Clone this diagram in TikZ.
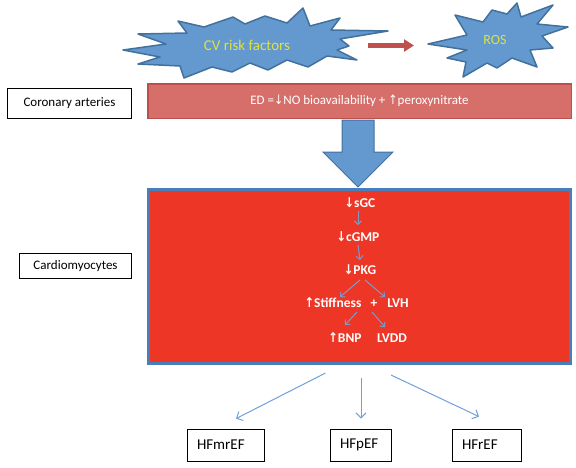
\documentclass[tikz,border=0pt]{standalone}
\usepackage{fontspec}
\setmainfont{Carlito}
\newfontfamily\arrfont{DejaVu Sans}
\usetikzlibrary{arrows.meta,calc}
\definecolor{starblue}{RGB}{100,153,208}
\definecolor{starline}{RGB}{65,113,156}
\definecolor{edfill}{RGB}{214,110,106}
\definecolor{edline}{RGB}{185,80,77}
\definecolor{boxred}{RGB}{238,54,38}
\definecolor{boxline}{RGB}{74,126,187}
\definecolor{txtyellow}{RGB}{222,226,60}
\definecolor{inarrow}{RGB}{125,155,200}
\definecolor{outarrow}{RGB}{110,160,220}
\definecolor{redarrow}{RGB}{192,80,77}
\newcommand{\dnarr}{{\arrfont\scalebox{0.85}[1]{\char"2193}}}
\newcommand{\uparr}{{\arrfont\scalebox{0.85}[1]{\char"2191}}}
\begin{document}
\begin{tikzpicture}[x=1pt,y=-1pt,
  lbl/.style={draw=black, line width=0.8pt, fill=white, font=\fontsize{13}{15}\selectfont, inner sep=0pt},
  hfbox/.style={draw=black, line width=0.8pt, fill=white, font=\fontsize{15}{17}\selectfont, inner xsep=10pt, inner ysep=0pt, minimum height=32pt, align=left},
  innertxt/.style={text=white, font=\fontsize{13.5}{15}\selectfont\bfseries, inner sep=1pt, text height=9pt, text depth=2.5pt},
  inarr/.style={draw=inarrow, line width=1pt, -{Straight Barb[length=3.5pt,width=7pt]}},
  outarr/.style={draw=outarrow, line width=1pt, -{Straight Barb[length=5pt,width=10pt]}},
  star/.style={fill=starblue, draw=starline, line width=1.5pt, line join=round},
  startxt/.style={text=txtyellow, inner sep=1pt}]
\useasboundingbox (0,0) rectangle (576,467);

% CV risk factors star
\path[star] (123,50) -- (166,44) -- (138,34) -- (187,33) -- (178,21) -- (204,27)
  -- (233,17) -- (245,24) -- (265,16) -- (287,23) -- (303,8) -- (310,26)
  -- (340,18) -- (331,30) -- (388,31) -- (340,39) -- (349,46) -- (337,50)
  -- (357,60) -- (327,56) -- (308,67) -- (287,60) -- (268,70) -- (250,63)
  -- (232,72) -- (212,67) -- (184,78) -- (180,66) -- (138,64) -- (160,57) -- cycle;
\node[startxt, font=\fontsize{15}{17}\selectfont] (cv) at (247,45) {CV risk factors};

% ROS star
\path[star] (455,15) -- (483,22) -- (492,10) -- (507,14) -- (517,3) -- (521,17)
  -- (553,5) -- (537,24) -- (568,27) -- (542,36) -- (553,48) -- (530,50)
  -- (537,67) -- (512,58) -- (497,68) -- (487,63) -- (463,77) -- (466,62)
  -- (447,58) -- (467,50) -- (428,44) -- (467,35) -- cycle;
\node[startxt, font=\fontsize{14}{16}\selectfont] (ros) at (495,40) {ROS};

% red arrow
\coordinate (rs) at (368,45.5);
\coordinate (re) at (414,45.5);
\draw[redarrow, line width=5pt, -{Triangle[length=10pt,width=12pt]}] (rs) -- (re);

% left labels
\node[lbl, minimum width=124pt, minimum height=30pt] (cor) at (69.5,103.5) {Coronary arteries};
\node[lbl, minimum width=112pt, minimum height=25pt] (cm) at (75.5,266) {Cardiomyocytes};

% ED bar
\node[fill=edfill, draw=edline, line width=1.5pt, minimum width=423.5pt, minimum height=34.5pt,
      text=white, font=\fontsize{13}{15}\selectfont, inner sep=0pt] (ed) at (359.5,101)
      {ED =\dnarr NO bioavailability + \uparr peroxynitrate};

% big blue arrow
\path[fill=starblue, draw=starline, line width=1pt, line join=miter]
  (342,120) -- (374,120) -- (374,152) -- (393,152) -- (358,187) -- (323,152) -- (342,152) -- cycle;

% main red box
\node[fill=boxred, draw=boxline, line width=3pt, minimum width=422pt, minimum height=174pt, inner sep=0pt]
  (heart) at (359.5,276.5) {};

% inner cascade
\node[innertxt] (sgc) at (360,204) {\dnarr sGC};
\node[innertxt] (cgmp) at (358,238) {\dnarr cGMP};
\node[innertxt] (pkg) at (360,271) {\dnarr PKG};
\node[innertxt] (stiff) at (333,304) {\uparr Stiffness};
\node[innertxt] (plus) at (374,304) {+};
\node[innertxt] (lvh) at (398,304) {LVH};
\node[innertxt] (bnp) at (345,339) {\uparr BNP};
\node[innertxt] (lvdd) at (392,339) {LVDD};

\draw[inarr] ($(sgc.south)+(-2,0)$) -- ($(cgmp.north)+(0,-6)$);
\draw[inarr] ($(cgmp.south)+(0,0)$) -- ($(pkg.north)+(0,-4)$);
\draw[inarr] ($(pkg.south)+(0,2)$) -- ($(stiff.north)+(7,0)$);
\draw[inarr] ($(pkg.south)+(5,2)$) -- ($(lvh.north)+(-13,0)$);
\draw[inarr] ($(stiff.south)+(24,1)$) -- ($(bnp.north)+(0,-7)$);
\draw[inarr] ($(lvh.south)+(-26,1)$) -- ($(lvdd.north)+(-7,-5)$);

% HF boxes
\node[hfbox, text width=57pt] (hfmr) at (225.5,445) {HFmrEF};
\node[hfbox, text width=41pt] (hfp) at (360.5,445) {HFpEF};
\node[hfbox, text width=49pt] (hfr) at (486.5,445) {HFrEF};

\draw[outarr] ($(heart.south)+(-34,8)$) -- ($(hfmr.north)+(10.5,-10)$);
\draw[outarr] ($(heart.south)+(1.5,13)$) -- ($(hfp.north)+(0.5,-10)$);
\draw[outarr] ($(heart.south)+(31.5,10)$) -- ($(hfr.north)+(-7.5,-12)$);
\end{tikzpicture}
\end{document}
